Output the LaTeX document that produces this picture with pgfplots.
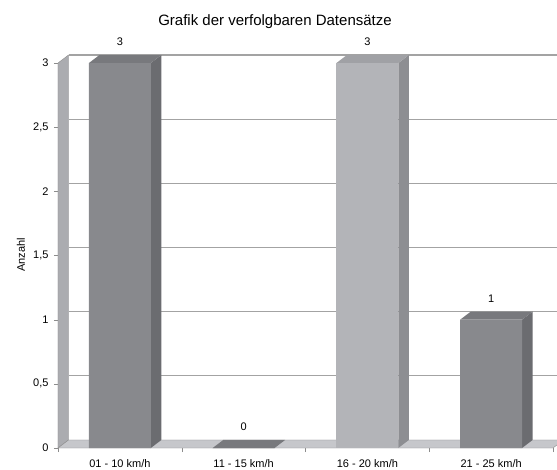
\documentclass[border=0pt]{standalone}
\usepackage{pgfplots}
\pgfplotsset{compat=1.18}
\usepackage{pgfplotstable}
\usepackage{fontspec}
\setmainfont{Liberation Sans}

\definecolor{darkfront}{HTML}{88898D}
\definecolor{darkside}{HTML}{6B6C70}
\definecolor{darktop}{HTML}{78797D}
\definecolor{lightfront}{HTML}{B3B4B8}
\definecolor{lightside}{HTML}{8D8E92}
\definecolor{lighttop}{HTML}{A0A1A5}
\definecolor{wallgray}{HTML}{ABACB0}
\definecolor{floorgray}{HTML}{C6C7CB}
\definecolor{gridgray}{HTML}{A3A3A3}
\definecolor{tickgray}{HTML}{8C8C8C}

% Anzahl je Geschwindigkeitsklasse
\pgfplotstableread{
x n
0 3
1 0
3 1
}\darkbars
\pgfplotstableread{
x n
2 3
}\lightbars

\begin{document}
\begin{tikzpicture}
\begin{axis}[
  at={(58pt,-448pt)}, anchor=south west,
  scale only axis, width=495pt, height=393pt,
  xmin=-0.5, xmax=3.5, ymin=0, ymax=3.0625,
  clip=false,
  axis x line*=bottom, axis y line*=left,
  axis line style={draw=none},
  xtick={0,1,2,3},
  xticklabels={01 - 10 km/h, 11 - 15 km/h, 16 - 20 km/h, 21 - 25 km/h},
  xtick style={draw=none},
  extra x ticks={-0.5,0.5,1.5,2.5,3.5},
  extra x tick labels={},
  extra x tick style={xtick style={draw=tickgray}},
  ytick={0,0.5,...,3},
  ytick style={draw=tickgray},
  tick align=outside, major tick length=4pt,
  ticklabel style={font=\fontsize{11}{13}\selectfont},
  xticklabel style={yshift=-3.5pt},
  yticklabel style={xshift=-2pt, /pgf/number format/use comma},
  /pgf/number format/assume math mode=true,
  ylabel={Anzahl},
  every axis y label/.style={at={(axis description cs:0,0.491)}, xshift=-37pt, rotate=90, anchor=center, font=\fontsize{11}{13}\selectfont},
]
% Seitenwand und Boden
\addplot[fill=wallgray, draw=tickgray] coordinates {(-0.5,0) (-0.5,3) (-0.415,3.0625) (-0.415,0.0625)} -- cycle;
\addplot[fill=floorgray, draw=tickgray] coordinates {(-0.5,0) (3.5,0) (3.585,0.0625) (-0.415,0.0625)} -- cycle;
% Gitterlinien an der Rueckwand
\addplot[gridgray, line width=1.3pt] coordinates {(-0.415,0.5625) (3.585,0.5625)};
\addplot[gridgray, line width=1.3pt] coordinates {(-0.415,1.0625) (3.585,1.0625)};
\addplot[gridgray, line width=1.3pt] coordinates {(-0.415,1.5625) (3.585,1.5625)};
\addplot[gridgray, line width=1.3pt] coordinates {(-0.415,2.0625) (3.585,2.0625)};
\addplot[gridgray, line width=1.3pt] coordinates {(-0.415,2.5625) (3.585,2.5625)};
\addplot[gridgray, line width=1.3pt] coordinates {(-0.415,3.0625) (3.585,3.0625)};
% Seiten- und Deckflaechen der Saeulen
\addplot[fill=darkside, draw=none] coordinates {(0.25,0) (0.25,3) (0.335,3.0625) (0.335,0.0625)};
\addplot[fill=darktop, draw=none] coordinates {(-0.25,3) (0.25,3) (0.335,3.0625) (-0.165,3.0625)};
\addplot[fill=darktop, draw=none] coordinates {(0.75,0) (1.25,0) (1.335,0.0625) (0.835,0.0625)};
\addplot[fill=lightside, draw=none] coordinates {(2.25,0) (2.25,3) (2.335,3.0625) (2.335,0.0625)};
\addplot[fill=lighttop, draw=none] coordinates {(1.75,3) (2.25,3) (2.335,3.0625) (1.835,3.0625)};
\addplot[fill=darkside, draw=none] coordinates {(3.25,0) (3.25,1) (3.335,1.0625) (3.335,0.0625)};
\addplot[fill=darktop, draw=none] coordinates {(2.75,1) (3.25,1) (3.335,1.0625) (2.835,1.0625)};
% Vorderflaechen
\addplot[ybar, bar width=0.5, bar shift=0pt, fill=darkfront, draw=none,
  nodes near coords,
  every node near coord/.append style={font=\fontsize{11}{13}\selectfont, anchor=center, yshift=21pt, text=black}]
  table[x=x, y=n] {\darkbars};
\addplot[ybar, bar width=0.5, bar shift=0pt, fill=lightfront, draw=none,
  nodes near coords,
  every node near coord/.append style={font=\fontsize{11}{13}\selectfont, anchor=center, yshift=21pt, text=black}]
  table[x=x, y=n] {\lightbars};
\end{axis}
\node[anchor=base, font=\fontsize{15}{18}\selectfont] at (275pt,-25.7pt) {Grafik der verfolgbaren Datensätze};
\pgfresetboundingbox
\useasboundingbox (0,0) rectangle (557pt,-469pt);
\end{tikzpicture}
\end{document}
